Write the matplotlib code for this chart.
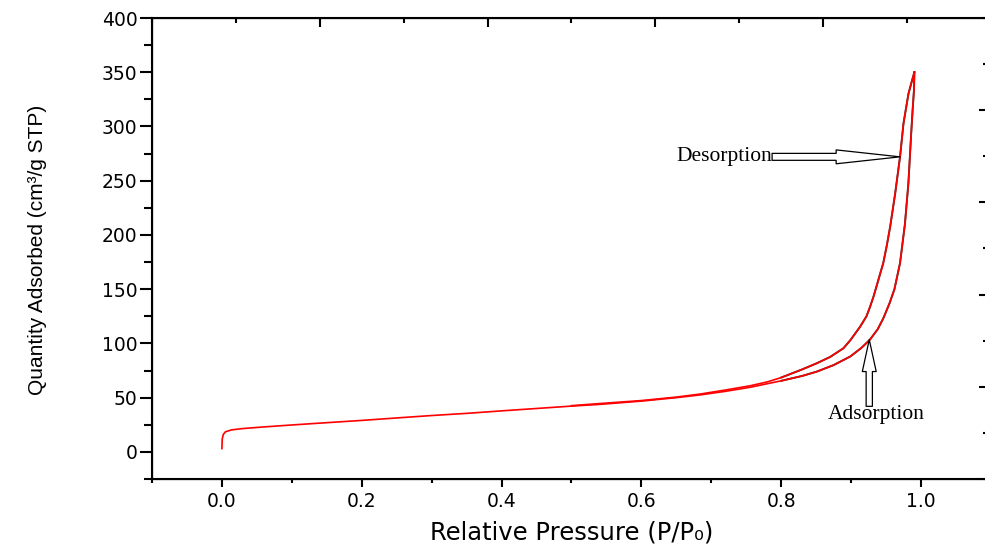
import matplotlib
matplotlib.use("Agg")
import matplotlib.pyplot as plt
from matplotlib import font_manager
from matplotlib.ticker import MultipleLocator

# adsorption branch (P/P0, quantity adsorbed)
ads_p = [0.0, 0.0005, 0.002, 0.005, 0.014, 0.03, 0.06, 0.1, 0.14, 0.2, 0.255,
         0.3, 0.35, 0.4, 0.45, 0.5, 0.541, 0.6, 0.65, 0.684, 0.72, 0.756,
         0.8, 0.83, 0.851, 0.875, 0.899, 0.915, 0.927, 0.938, 0.946, 0.955,
         0.962, 0.970, 0.977, 0.982, 0.986, 0.988, 0.990, 0.9905]
ads_q = [3, 12, 16, 18.5, 20.3, 21.5, 23, 24.8, 26.5, 29, 31.5,
         33.5, 35.5, 37.8, 40, 42.2, 43.8, 46.8, 50, 52.5, 55.8, 59.6,
         65.5, 70, 74, 80, 88, 96, 103.5, 113, 123, 137,
         150, 174, 210, 248, 294, 315, 334, 350]

# desorption branch
des_p = [0.9905, 0.987, 0.982, 0.975, 0.970, 0.963, 0.956, 0.951, 0.946,
         0.941, 0.937, 0.932, 0.927, 0.922, 0.913, 0.899, 0.889, 0.870,
         0.851, 0.830, 0.800, 0.780, 0.756, 0.720, 0.684, 0.650, 0.600,
         0.550, 0.500]
des_q = [350, 342, 330, 303, 272, 238, 208, 190, 174,
         163, 154, 143, 133.5, 125, 115.5, 103, 95.5, 87.5,
         81.7, 76, 68.5, 64.5, 61, 57, 53.3, 50.5, 47.3,
         45, 42.6]

x_ticks = [0.0, 0.2, 0.4, 0.6, 0.8, 1.0]
y_ticks = [0, 50, 100, 150, 200, 250, 300, 350, 400]

# pick a narrow font for the y label if one is there
names = {f.name for f in font_manager.fontManager.ttflist}
if "Liberation Sans Narrow" in names:
    ylab_font, ylab_size = "Liberation Sans Narrow", 18.5
else:
    ylab_font, ylab_size = "Liberation Sans", 15

fig = plt.figure(figsize=(9.85, 5.54), dpi=100)
ax = fig.add_axes([0.1543, 0.1354, 1.006 - 0.1543, 0.9675 - 0.1354])

# thin dark edge under the steep part of the loop, red on top
hi_a = [i for i, p in enumerate(ads_p) if p >= 0.8]
hi_d = [i for i, p in enumerate(des_p) if p >= 0.8]
ax.plot([ads_p[i] for i in hi_a], [ads_q[i] for i in hi_a], color="#333333", lw=1.4)
ax.plot([des_p[i] for i in hi_d], [des_q[i] for i in hi_d], color="#333333", lw=1.4)
ax.plot(ads_p, ads_q, color="red", lw=1.2)
ax.plot(des_p, des_q, color="red", lw=1.2)

ax.set_xlim(-0.1, 1.1)
ax.set_ylim(-25, 400)
ax.set_xticks(x_ticks)
ax.set_yticks(y_ticks)
ax.xaxis.set_minor_locator(MultipleLocator(0.1))
ax.yaxis.set_minor_locator(MultipleLocator(25))
ax.tick_params(axis="x", which="major", direction="out", length=6, width=1.5,
               pad=3.5, labelsize=13.5)
ax.tick_params(axis="x", which="minor", direction="out", length=3, width=1.5)
ax.tick_params(axis="y", which="major", direction="out", length=8.5, width=1.5,
               pad=2, labelsize=13.5)
ax.tick_params(axis="y", which="minor", direction="out", length=5.5, width=1.5)
for s in ax.spines.values():
    s.set_linewidth(1.5)

ax.set_xlabel("Relative Pressure (P/P\u2080)", fontsize=17.5)
ax.xaxis.set_label_coords(0.5, -0.09)
ax.set_ylabel("Quantity Adsorbed (cm\u00b3/g STP)", family=ylab_font,
              fontsize=ylab_size)
ax.yaxis.set_label_coords(-0.125, 0.498)

# leftover frame ticks on top and right
top = ax.twiny()
top.set_xlim(0, 5)
top.set_xticks([1, 2, 3, 4])
top.xaxis.set_minor_locator(MultipleLocator(0.5))
top.tick_params(axis="x", which="major", direction="in", length=6.5, width=1.5,
                labeltop=False)
top.tick_params(axis="x", which="minor", direction="in", length=3.5, width=1.5)

right = ax.twinx()
right.set_ylim(0, 5)
right.set_yticks([1, 2, 3, 4])
right.yaxis.set_minor_locator(MultipleLocator(0.5))
right.tick_params(axis="y", which="major", direction="in", length=9, width=1.5,
                  labelright=False)
right.tick_params(axis="y", which="minor", direction="in", length=5.5, width=1.5)

# arrows and labels
ax.annotate("", xy=(0.970, 272), xytext=(0.787, 272),
            arrowprops=dict(facecolor="white", edgecolor="black", lw=0.9,
                            width=5, headwidth=10, headlength=46, shrink=0))
ax.text(0.787, 272, "Desorption", ha="right", va="center",
        family="Liberation Serif", fontsize=15.5)

ax.annotate("", xy=(0.926, 103.5), xytext=(0.926, 42),
            arrowprops=dict(facecolor="white", edgecolor="black", lw=0.9,
                            width=4.5, headwidth=10, headlength=23, shrink=0))
ax.text(0.936, 34, "Adsorption", ha="center", va="center",
        family="Liberation Serif", fontsize=15.5)

fig.savefig("out.png", dpi=100)
